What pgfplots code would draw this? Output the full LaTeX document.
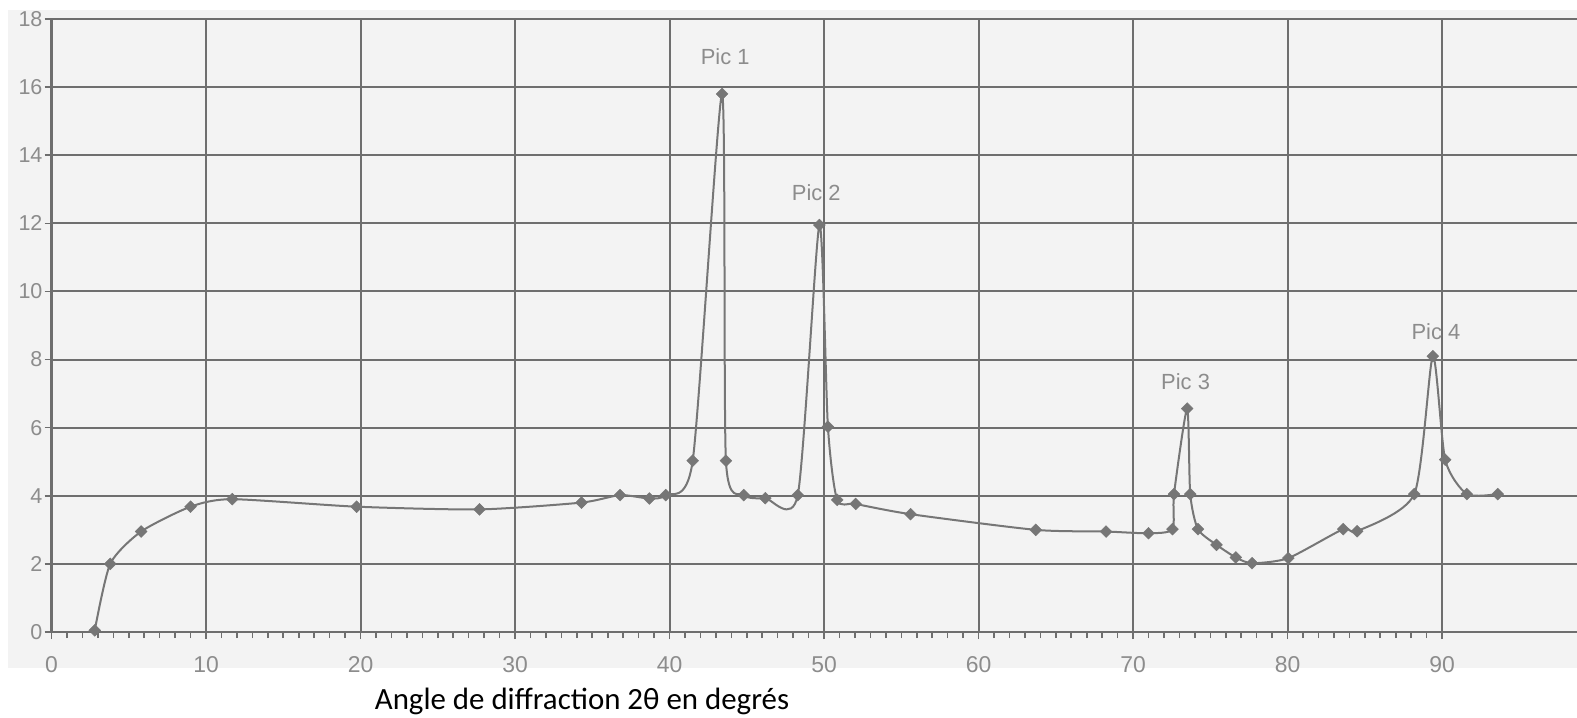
\documentclass[border=0pt]{standalone}
\usepackage{fontspec}
\setmainfont{Liberation Sans}
\newfontfamily\labelfont{Carlito}
\usepackage{pgfplots}
\pgfplotsset{compat=1.18}

\definecolor{paper}{HTML}{F3F3F3}
\definecolor{gridgray}{HTML}{6E6E6E}
\definecolor{inkgray}{HTML}{767676}
\definecolor{ticktext}{HTML}{8C8C8C}

\begin{document}
\begin{tikzpicture}
% page and scanned paper background
\fill[white] (0,0) rectangle (788.5bp,-359bp);
\useasboundingbox (0,0) rectangle (788.5bp,-359bp);
\fill[paper] (4bp,-5bp) rectangle (788.5bp,-334bp);

\begin{axis}[
    at={(25.75bp,-316bp)}, anchor=south west,
    scale only axis,
    width=762.5bp, height=306.5bp,
    xmin=0, xmax=98.7,
    ymin=0, ymax=18,
    xtick={0,10,...,90},
    ytick={0,2,...,18},
    minor x tick num=9,
    grid=major,
    major grid style={gridgray, line width=1bp},
    axis x line*=bottom,
    axis y line*=left,
    tick align=outside,
    major tick length=3.5bp,
    minor tick length=3bp,
    x axis line style={gridgray, line width=1bp},
    y axis line style={gridgray, line width=1.5bp},
    tick style={gridgray, line width=0.8bp},
    xticklabel style={font=\fontsize{11.5}{13}\selectfont, text=ticktext, yshift=-5bp},
    yticklabel style={font=\fontsize{10.8}{13}\selectfont, text=ticktext, xshift=2.5bp},
    /pgf/number format/assume math mode=true,
]
\addplot[inkgray, line width=1bp, smooth, tension=0.4,
    mark=square*, mark size=2.1bp,
    mark options={solid, rotate=45, fill=inkgray, draw=inkgray, line width=0.2bp}]
coordinates {
    (2.8,0.05) (3.8,2.0) (5.8,2.95) (9.0,3.68) (11.7,3.9)
    (19.75,3.68) (27.7,3.6) (34.3,3.8) (36.8,4.02) (38.7,3.92)
    (39.75,4.02) (41.5,5.03) (43.4,15.8) (43.65,5.03) (44.8,4.02)
    (46.2,3.93) (48.3,4.02) (49.7,11.95) (50.25,6.03) (50.85,3.88)
    (52.05,3.76) (55.6,3.46) (63.7,3.0) (68.25,2.95) (71.0,2.9)
    (72.55,3.02) (72.65,4.05) (73.5,6.56) (73.7,4.05) (74.2,3.02)
    (75.4,2.56) (76.65,2.19) (77.7,2.02) (80.05,2.17) (83.6,3.02)
    (84.5,2.96) (88.2,4.05) (89.4,8.1) (90.2,5.06) (91.6,4.05)
    (93.6,4.05)
};

\node[font=\fontsize{11}{13}\selectfont, text=ticktext] at (axis cs:43.6,16.9) {Pic 1};
\node[font=\fontsize{11}{13}\selectfont, text=ticktext] at (axis cs:49.5,12.9) {Pic 2};
\node[font=\fontsize{11}{13}\selectfont, text=ticktext] at (axis cs:73.4,7.36) {Pic 3};
\node[font=\fontsize{11}{13}\selectfont, text=ticktext] at (axis cs:89.6,8.83) {Pic 4};
\end{axis}

\node[font=\labelfont\fontsize{15.5}{18}\selectfont] at (291bp,-350.5bp) {Angle de diffraction 2θ en degrés};
\end{tikzpicture}
\end{document}
